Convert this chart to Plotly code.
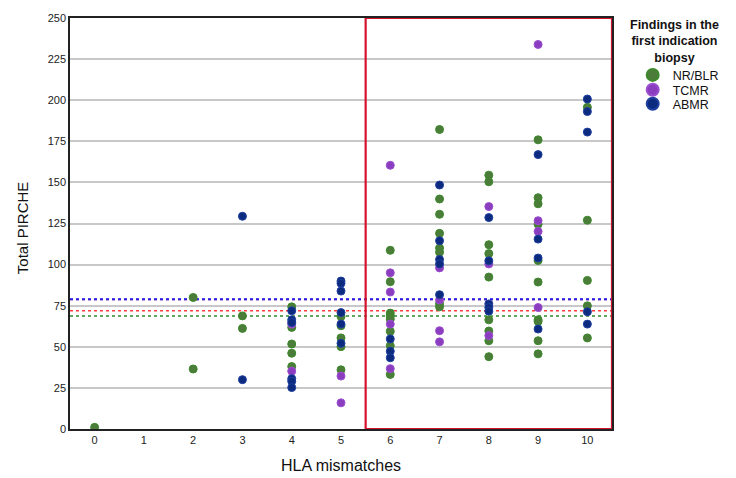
import plotly.graph_objects as go

# ---------------- data ----------------
categories = ["NR/BLR", "TCMR", "ABMR"]
colors = ["#4B7C39", "#8A3DBE", "#0C2B7E"]
edge_colors = ["#3C8A2C", "#9B4FD0", "#1F3FA0"]

nr_x = [0, 2, 2, 3, 3, 4, 4, 4, 4, 4, 5, 5, 5, 5, 5,
        6, 6, 6, 6, 6, 6, 6, 6,
        7, 7, 7, 7, 7, 7, 7, 7,
        8, 8, 8, 8, 8, 8, 8, 8, 8,
        9, 9, 9, 9, 9, 9, 9, 9, 9, 9,
        10, 10, 10, 10, 10]
nr_y = [1, 80, 36.5, 68.8, 61.2, 74.3, 61.8, 51.7, 46.1, 38.0, 68.4, 62.8, 55.4, 50.1, 36.0,
        108.7, 89.6, 70.5, 68.8, 66.8, 59.4, 50.7, 33.2,
        182.2, 139.9, 130.6, 119.0, 110.1, 107.5, 76.3, 74.3,
        154.4, 150.4, 112.1, 106.7, 92.4, 66.4, 59.6, 53.7, 44.0,
        175.9, 140.7, 137.0, 124.6, 102.5, 89.4, 66.4, 65.4, 53.7, 45.7,
        195.7, 127.0, 90.4, 74.9, 55.4]

tcmr_x = [4, 4, 5, 5, 6, 6, 6, 6, 6, 7, 7, 7, 7, 8, 8, 8, 9, 9, 9, 9]
tcmr_y = [63.8, 35.2, 32.2, 15.9, 160.4, 95.0, 83.3, 63.8, 36.7, 98.0, 78.5, 59.8, 53.0,
          135.3, 100.4, 56.8, 233.9, 126.7, 120.2, 73.9]

abmr_x = [3, 3, 4, 4, 4, 4, 4, 4, 5, 5, 5, 5, 5, 5, 6, 6, 6,
          7, 7, 7, 7, 7, 8, 8, 8, 8, 8, 9, 9, 9, 9, 10, 10, 10, 10, 10]
abmr_y = [129.4, 30.0, 71.9, 66.4, 64.8, 30.6, 29.0, 25.2, 90.0, 88.6, 83.9, 70.8, 63.8, 52.1,
          54.8, 47.3, 43.3, 148.4, 114.5, 103.1, 100.4, 81.7,
          128.6, 102.3, 76.1, 73.9, 71.7, 166.9, 115.5, 104.0, 60.8,
          200.7, 193.1, 180.6, 71.3, 63.8]

# reference (mean) lines
ref_values = [78.7, 79.1, 71.9, 68.7]
ref_colors = ["#8A3DBE", "#1414E6", "#FF3B3B", "#2E8B2E"]

x_ticks = list(range(0, 11))
y_ticks = list(range(0, 251, 25))
highlight_range = [5.5, 10.5]
legend_title_lines = ["Findings in the", "first indication", "biopsy"]

series = [(nr_x, nr_y), (tcmr_x, tcmr_y), (abmr_x, abmr_y)]

fig = go.Figure()
legend_ids = ["legend", "legend2", "legend3"]
for i, (name, (xs, ys)) in enumerate(zip(categories, series)):
    fig.add_trace(go.Scatter(
        x=xs, y=ys, mode="markers", name=name,
        marker=dict(size=8, color=colors[i],
                    line=dict(width=1, color=edge_colors[i])),
        legend=legend_ids[i],
    ))

shapes = []
for v, c in zip(ref_values, ref_colors):
    shapes.append(dict(type="line", xref="x", yref="y", x0=-0.5, x1=10.5, y0=v, y1=v,
                       line=dict(color=c, width=1.6, dash="dot"), layer="below"))
shapes.append(dict(type="rect", xref="x", yref="y", x0=highlight_range[0], x1=highlight_range[1],
                   y0=0, y1=250, line=dict(color="#D4142F", width=2.2), layer="above"))

font_family = "Liberation Sans, Arial, sans-serif"

# pixel helpers for paper coords (plot area: x 70..620, y 15..429)
def px(xp):
    return (xp - 70) / 550.0

def py(yp):
    return (429 - yp) / 414.0

annotations = [
    dict(text="Total PIRCHE", xref="paper", yref="paper", x=px(22), y=py(226),
         xanchor="center", yanchor="middle", textangle=-90, showarrow=False,
         font=dict(family=font_family, size=15, color="#111")),
    dict(text="HLA mismatches", xref="paper", yref="paper", x=px(345), y=py(466),
         xanchor="center", yanchor="middle", showarrow=False,
         font=dict(family=font_family, size=16, color="#111")),
    dict(text="<b>" + "<br>".join(legend_title_lines) + "</b>", xref="paper", yref="paper",
         x=px(683), y=py(39), xanchor="center", yanchor="middle", align="center",
         showarrow=False, font=dict(family=font_family, size=12.5, color="#111")),
]

legend_common = dict(font=dict(family=font_family, size=12.5, color="#111"),
                     bgcolor="rgba(0,0,0,0)", itemsizing="constant",
                     xanchor="left", yanchor="middle", borderwidth=0,
                     tracegroupgap=0)
legend_y = [72.7, 87.7, 101.7]
legend_x = 641

fig.update_layout(
    width=736, height=478,
    margin=dict(l=70, r=116, t=15, b=49),
    paper_bgcolor="white", plot_bgcolor="white",
    font=dict(family=font_family, size=11, color="#222"),
    showlegend=True,
    legend=dict(x=px(legend_x), y=py(legend_y[0]), **legend_common),
    legend2=dict(x=px(legend_x), y=py(legend_y[1]), **legend_common),
    legend3=dict(x=px(legend_x), y=py(legend_y[2]), **legend_common),
    xaxis=dict(range=[-0.5, 10.5], tickmode="array", tickvals=x_ticks,
               ticktext=[str(t) for t in x_ticks], showgrid=False, zeroline=False,
               showline=True, linecolor="#222", linewidth=1.5, mirror=True,
               ticks="", tickfont=dict(size=11, color="#222")),
    yaxis=dict(range=[0, 250], tickmode="array", tickvals=y_ticks,
               ticktext=[str(t) for t in y_ticks], showgrid=True, gridcolor="#C8C8C8",
               gridwidth=1.5, zeroline=False, showline=True, linecolor="#222",
               linewidth=1.5, mirror=True, ticks="", tickfont=dict(size=11, color="#222")),
    shapes=shapes,
    annotations=annotations,
)

fig.write_html("out.html")
